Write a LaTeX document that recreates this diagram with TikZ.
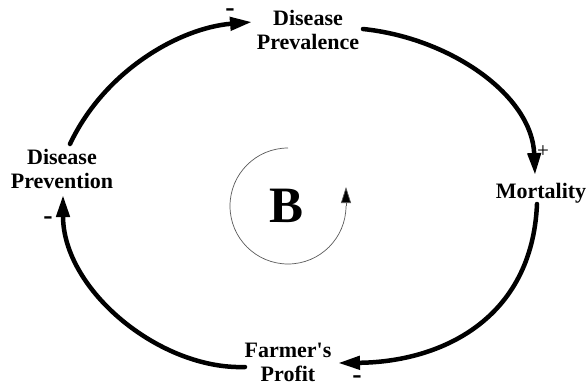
\documentclass[tikz,border=0pt]{standalone}
\usepackage{fontspec}
\setmainfont{Liberation Serif}
\usetikzlibrary{arrows.meta}
\begin{document}
\begin{tikzpicture}[x=1pt,y=-1pt,
  lbl/.style={font=\fontsize{22}{24}\selectfont\bfseries, align=center, inner sep=0pt},
  sgn/.style={font=\fontsize{28}{30}\selectfont\bfseries, inner sep=0pt},
  pls/.style={font=\fontsize{21}{23}\selectfont, inner sep=0pt},
  link/.style={line width=4.5pt, line cap=round, -{Triangle[length=22pt,width=13pt]}},
  loopline/.style={line width=0.7pt, draw=black!65},
]
\useasboundingbox (0,0) rectangle (586,388);
% variable nodes
\node[lbl] (prevl) at (308,30) {Disease\\Prevalence};
\node[lbl] (mort)  at (541,193) {Mortality};
\node[lbl] (prevn) at (62,169) {Disease\\Prevention};
\node[lbl] (profit) at (288,362) {Farmer\textquotesingle s\\Profit};
\node[font=\fontsize{51}{55}\selectfont\bfseries, inner sep=0pt] (B) at (287,206) {B};
% connector end points
\coordinate (a1s) at (70,144);
\coordinate (a1e) at (252,22);
\coordinate (a2s) at (363,29);
\coordinate (a2e) at (535,175);
\coordinate (a3s) at (537,204);
\coordinate (a3e) at (338,363);
\coordinate (a4s) at (245,367);
\coordinate (a4e) at (63,195);
% connectors
\draw[link] (a1s) .. controls (105,70) and (180,28) .. (a1e);
\draw[link] (a2s) .. controls (450,38) and (532,95) .. (a2e);
\draw[link] (a3s) .. controls (532,320) and (440,362) .. (a3e);
\draw[link] (a4s) .. controls (160,370) and (63,290) .. (a4e);
% polarity signs
\node[sgn] (s1) at (230,13) {-};
\node[pls] (s2) at (543,152) {+};
\node[sgn] (s3) at (357,380) {-};
\node[sgn] (s4) at (48,221) {-};
% loop indicator
\coordinate (lt) at (288,148);
\draw[loopline] (lt) arc[start angle=-90, end angle=-360, radius=58]
  coordinate (lr);
\draw[loopline, -{Triangle[length=16pt,width=10pt,fill=black]}] (lr) -- ++(0,-19);
\end{tikzpicture}
\end{document}
